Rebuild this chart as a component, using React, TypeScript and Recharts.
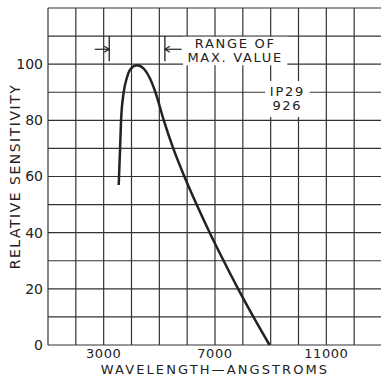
import React from 'react';
import { LineChart, Line, XAxis, YAxis, CartesianGrid, ReferenceLine, ReferenceArea } from 'recharts';

// spectral response
const wavelengths = [3540, 3590, 3625, 3720, 3830, 3960, 4200, 4460, 4660, 4860, 5160, 5500, 5900, 6340, 6810, 7310, 7830, 8380, 8960];
const sensitivity = [57, 70, 80, 90, 95, 98.2, 99.6, 98.2, 95, 90, 80, 70, 60, 50, 40, 30, 20, 10, 0];

const xTicks = [1000, 2000, 3000, 4000, 5000, 6000, 7000, 8000, 9000, 10000, 11000, 12000, 13000];
const xLabels = [3000, 7000, 11000];
const yTicks = [0, 10, 20, 30, 40, 50, 60, 70, 80, 90, 100, 110, 120];
const yLabels = [0, 20, 40, 60, 80, 100];

const rangeLow = 3200;
const rangeHigh = 5200;
const rangeNote = ['RANGE OF', 'MAX. VALUE'];
const tubeNote = ['IP29', '926'];

const data = wavelengths.map((w, i) => ({ w, s: sensitivity[i] }));

const ink = '#222';
const font = 'DejaVu Sans';

const BoxText = (props: any) => {
  const { viewBox, lines } = props;
  const cx = viewBox.x + viewBox.width / 2;
  const cy = viewBox.y + viewBox.height / 2;
  return (
    <text x={cx} y={cy} textAnchor="middle" fill={ink} fontFamily={font} fontSize={13} letterSpacing={1.7}>
      {lines.map((l: string, i: number) => (
        <tspan key={i} x={cx} y={cy + (i - (lines.length - 1) / 2) * 14} dominantBaseline="central">{l}</tspan>
      ))}
    </text>
  );
};

const YTitle = (props: any) => {
  const { viewBox } = props;
  const cx = viewBox.x + 15;
  const cy = viewBox.y + viewBox.height / 2;
  return (
    <text x={cx} y={cy} transform={`rotate(-90 ${cx} ${cy})`} textAnchor="middle" dominantBaseline="central"
      fill={ink} fontFamily={font} fontSize={14} letterSpacing={1.5}>
      RELATIVE SENSITIVITY
    </text>
  );
};

const XTitle = (props: any) => {
  const { viewBox } = props;
  const cx = viewBox.x + viewBox.width / 2;
  return (
    <text x={cx} y={viewBox.y + 24} textAnchor="middle" dominantBaseline="central"
      fill={ink} fontFamily={font} fontSize={13} letterSpacing={2.1}>
      WAVELENGTH—ANGSTROMS
    </text>
  );
};

const arrow = (p: any) => {
  const { x1, y1, x2, y2 } = p;
  const dir = x2 > x1 ? 1 : -1;
  return (
    <g>
      <line x1={x1} y1={y1} x2={x2} y2={y2} stroke={ink} strokeWidth={1.2} />
      <polyline points={`${x2 - dir * 5},${y2 - 3} ${x2},${y2} ${x2 - dir * 5},${y2 + 3}`} fill="none" stroke={ink} strokeWidth={1.2} />
    </g>
  );
};

export default function App() {
  return (
    <div style={{ position: 'absolute', left: 0, top: 0, width: 381, height: 377, overflow: 'hidden', background: '#fff' }}>
      <LineChart width={383} height={377} data={data} margin={{ top: 8, right: 1, left: 0, bottom: 0 }}>
        <CartesianGrid stroke="#333" strokeWidth={1.2} />
        <XAxis
          type="number"
          dataKey="w"
          domain={[1000, 13000]}
          ticks={xTicks}
          interval={0}
          axisLine={false}
          tickLine={false}
          tickSize={0}
          tickMargin={4}
          height={32}
          tickFormatter={(v: number) => (xLabels.includes(v) ? String(v) : '')}
          tick={{ fill: ink, fontFamily: font, fontSize: 13, letterSpacing: 0.6 }}
          label={<XTitle />}
        />
        <YAxis
          type="number"
          domain={[0, 120]}
          ticks={yTicks}
          interval={0}
          axisLine={false}
          tickLine={false}
          tickSize={0}
          tickMargin={5}
          width={48}
          tickFormatter={(v: number) => (yLabels.includes(v) ? String(v) : '')}
          tick={{ fill: ink, fontFamily: font, fontSize: 14 }}
          label={<YTitle />}
        />
        <ReferenceArea x1={5850} x2={9600} y1={99.6} y2={109.8} fill="#fff" fillOpacity={1} stroke="none"
          label={<BoxText lines={rangeNote} />} />
        <ReferenceArea x1={8800} x2={10400} y1={81.2} y2={94} fill="#fff" fillOpacity={1} stroke="none"
          label={<BoxText lines={tubeNote} />} />
        <ReferenceLine segment={[{ x: rangeLow, y: 101 }, { x: rangeLow, y: 110 }]} stroke={ink} strokeWidth={1.3} />
        <ReferenceLine segment={[{ x: rangeHigh, y: 101 }, { x: rangeHigh, y: 110 }]} stroke={ink} strokeWidth={1.3} />
        <ReferenceLine segment={[{ x: 2680, y: 105.3 }, { x: rangeLow, y: 105.3 }]} shape={arrow} />
        <ReferenceLine segment={[{ x: 5800, y: 105.3 }, { x: rangeHigh, y: 105.3 }]} shape={arrow} />
        <Line type="monotone" dataKey="s" stroke={ink} strokeWidth={2.5} dot={false} isAnimationActive={false} />
      </LineChart>
    </div>
  );
}
